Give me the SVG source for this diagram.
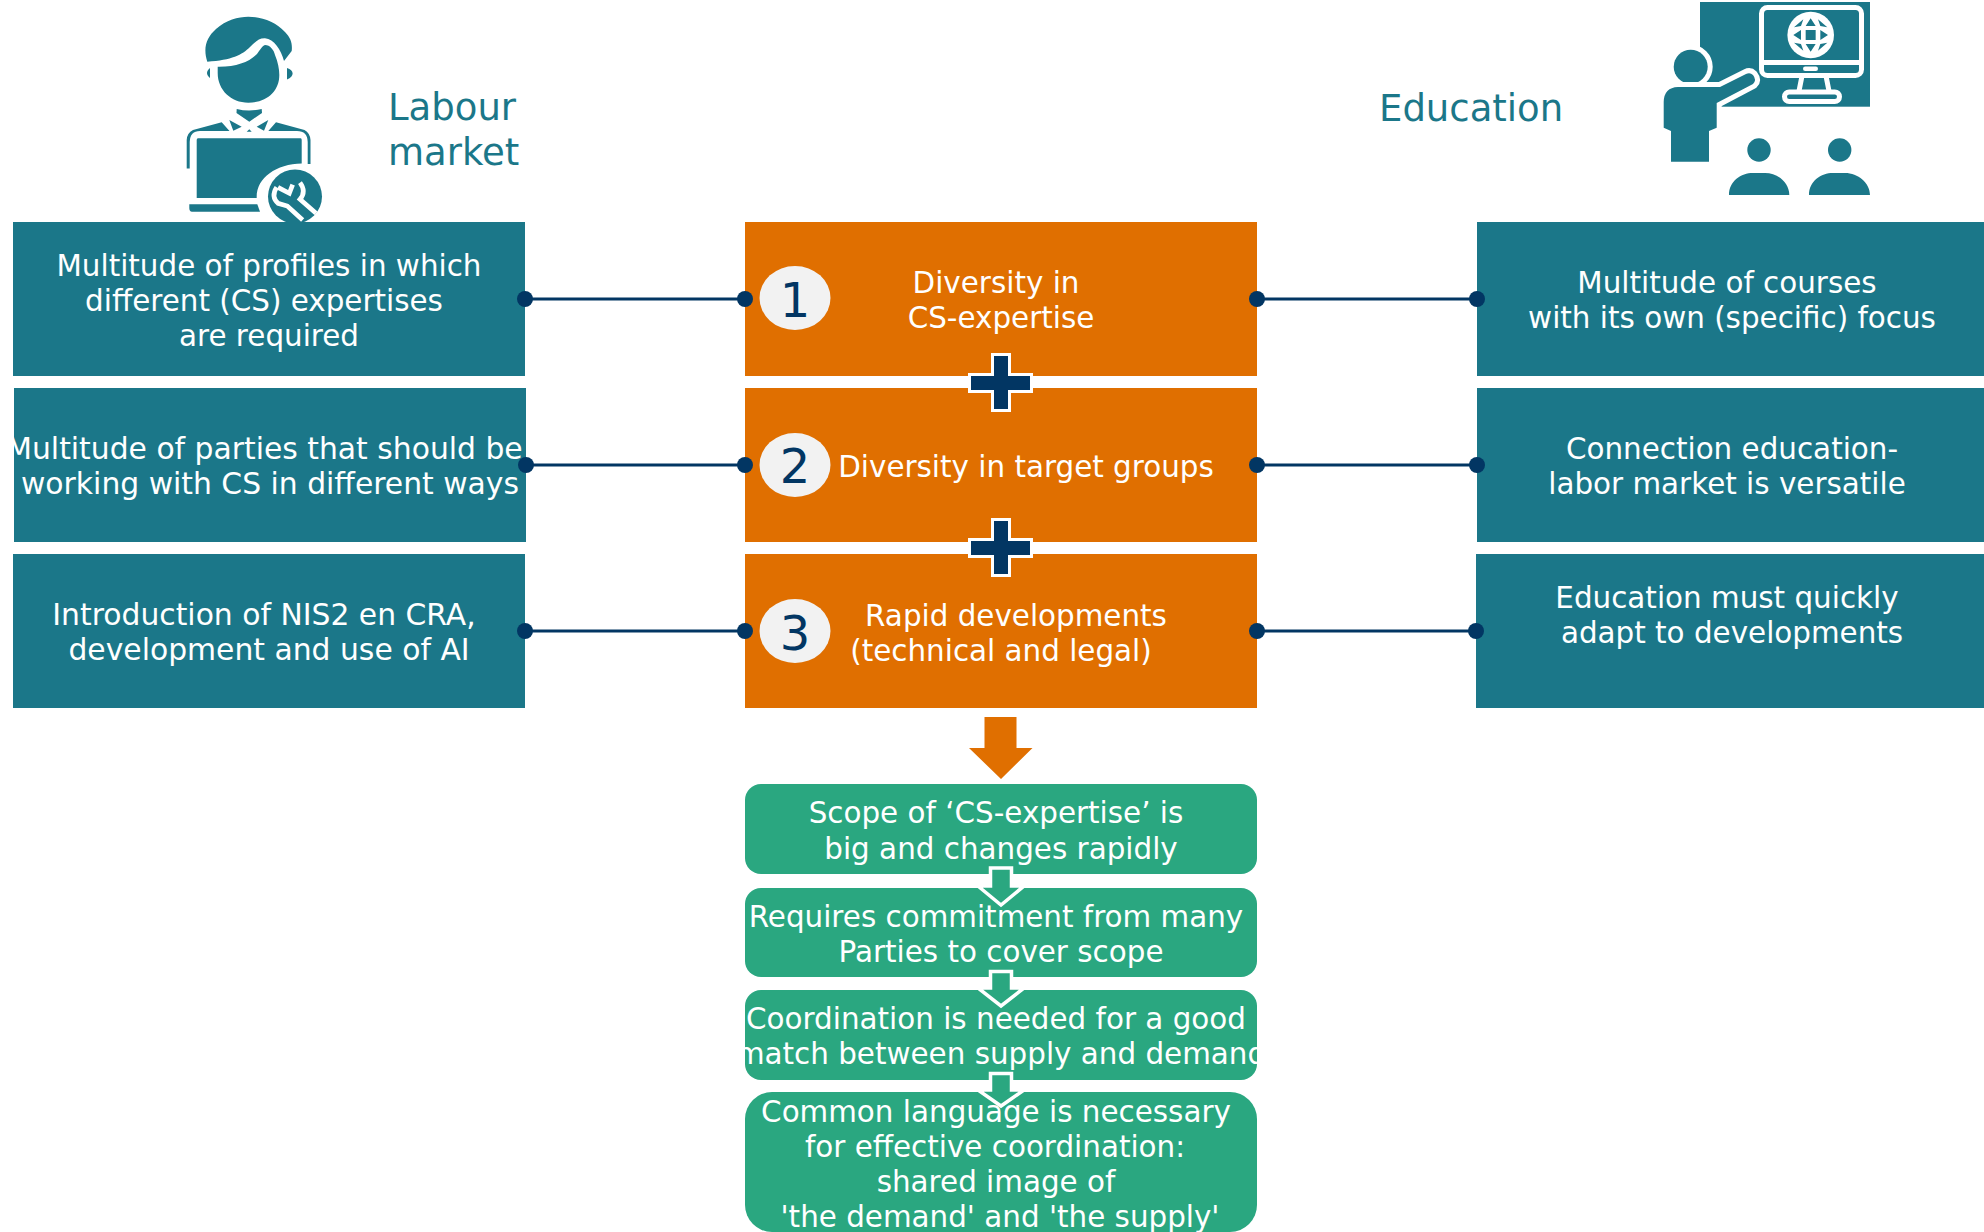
<svg xmlns="http://www.w3.org/2000/svg" width="1984" height="1232" viewBox="0 0 1984 1232">
<style>
text{font-family:"DejaVu Sans",Verdana,sans-serif;font-size:29.4px;fill:#fff;text-anchor:middle}
.teal{fill:#1b7789}.orange{fill:#e06f00}.green{fill:#2aa780}
.hd{fill:#1b7789;font-size:37px;text-anchor:start}
.num{fill:#023663;font-size:48px}
.badge{fill:#f2f2f2}
.ln{stroke:#023663;stroke-width:3;fill:none}
.dot{fill:#023663}
.plus{fill:#023663;stroke:#fff;stroke-width:3}
.arr{fill:#2aa780;stroke:#fff;stroke-width:3.500}
.halo{stroke:#fff;stroke-width:10;paint-order:stroke}
</style>
<defs>
<clipPath id="clip-l2"><rect x="14" y="388" width="512" height="154"/></clipPath>
<clipPath id="clip-g3"><rect x="745" y="990" width="512" height="90" rx="16"/></clipPath>
<clipPath id="clip-icon"><rect x="150" y="0" width="200" height="222"/></clipPath>
</defs>
<g id="icon-labour" clip-path="url(#clip-icon)">
<g class="teal">
<path d="M207.300 61.700C203 48 206 38 216 29C226 20 238 16.700 248.300 16.700C262 16.700 276 22 285 32C291 38 292.500 44 291.700 51L284 61C281 50 274 39 265 38.300C259 38 255 42 250 47C242 55 232 60 207.300 61.700Z"/>
<path d="M217.700 66.700C236 67 249 62 257 54C260 50 262 46 265 45C270 45 274 50 275 55C278 62 279.300 69 279.300 75C279.300 92 266 102.700 248.300 102.700C231 102.700 217.700 90 217.700 73Z"/>
<path d="M210 68C206 71 206 75 210 78ZM287 68C294 70 295 76 287 79.500Z"/>
<path d="M236.700 109C245 111 253 111 261.700 109L262 113L249.300 121.700L236.500 113Z"/>
<path d="M221.700 122.300L229.500 131H200Q190 131 189.700 142V168.500H186.700V140Q187 133 193 130Z"/>
<path d="M276 122.300L268.300 131H297Q307.500 131 307.700 142V164H310.500V140Q310 133 304.500 130Z"/>
<path d="M229.300 120L241.700 126.700L233.300 130.700ZM268.300 120L256.700 126.700L264 130.700ZM246.700 131.700H251.700L249.300 129.300Z"/>
<path d="M198 138.300H300.700Q301.700 138.300 301.700 140V163.500C276 164 256 178 256.700 198H196.700V140Q196.700 138.300 198 138.300Z"/>
<path d="M189.300 204.300H257.300L260 211.700H192Q189.300 211.700 189.300 208Z"/>
<circle cx="295" cy="196.500" r="27"/>
</g>
<g transform="translate(250 150) scale(.3333)" fill="none" stroke="#fff" stroke-width="14">
<path d="M80 112Q62 140 84 160L112 168L158 210"/>
<path d="M84 112L118 130L128 104"/>
<path d="M150 98Q170 125 150 148L198 190"/>
</g>
</g>
<g id="icon-education">
<rect class="teal" x="1700" y="2" width="170" height="104.700"/>
<g fill="none" stroke="#fff" stroke-width="5">
<rect x="1761.500" y="7.500" width="100" height="68" rx="6"/><path d="M1761.500 62.500H1861.500"/>
<path d="M1802 76L1799 91M1826 76L1829 91"/>
<rect x="1784.500" y="92" width="55" height="9.500" rx="4.700"/>
</g>
<rect x="1803" y="66.500" width="15" height="4.500" rx="2.200" fill="#fff"/>
<circle cx="1810.700" cy="35" r="23.300" fill="#fff"/>
<g class="teal" transform="translate(1770 0) scale(.3333)">
<rect x="107" y="90" width="30" height="30"/>
<path d="M122 55L107 78H137ZM122 155L107 132H137ZM70 105L93 90V120ZM174 105L151 90V120ZM72 82L100 58L93 78ZM172 82L144 58L151 78ZM72 128L100 152L93 132ZM172 128L144 152L151 132Z"/>
</g>
<g class="teal">
<circle class="halo" cx="1690.700" cy="66.700" r="17"/>
<path class="halo" d="M1663.700 127.700V102Q1664 87.500 1678 87H1720L1746 74Q1750 72 1753 75Q1757 80 1753 84L1716.700 103V127.700L1709 131V161.700H1671V131Z"/>
<circle cx="1759" cy="150" r="11.700"/><circle cx="1839.700" cy="150" r="11.700"/>
<path d="M1729 195C1729 181 1741 173 1753 173H1765C1778 173 1789.300 183 1789.300 195ZM1809 195C1809 181 1821 173 1833 173H1845C1858 173 1870 183 1870 195Z"/>
</g>
</g>
<text class="hd" x="388" y="120">Labour</text><text class="hd" x="388" y="164.500">market</text>
<text class="hd" x="1379" y="120.500">Education</text>
<g id="n-l1"><rect class="teal" x="13" y="222" width="512" height="154"/><text x="269" y="275.500">Multitude of profiles in which</text><text x="264" y="310.500">different (CS) expertises</text><text x="269" y="345.500">are required</text></g>
<g id="n-l2"><rect class="teal" x="14" y="388" width="512" height="154"/><g clip-path="url(#clip-l2)"><text x="264.500" y="459" font-size="29.800" style="font-size:29.800px">Multitude of parties that should be</text></g><text x="270" y="494" style="font-size:29.800px">working with CS in different ways</text></g>
<g id="n-l3"><rect class="teal" x="13" y="554" width="512" height="154"/><text x="264" y="625" style="font-size:29.800px">Introduction of NIS2 en CRA,</text><text x="269" y="660" style="font-size:29.800px">development and use of AI</text></g>
<g id="n-c1"><rect class="orange" x="745" y="222" width="512" height="154"/><ellipse class="badge" cx="795" cy="298" rx="35.500" ry="32"/><text class="num" x="795" y="316.700">1</text><text x="996" y="293">Diversity in</text><text x="1001" y="328">CS-expertise</text></g>
<g id="n-c2"><rect class="orange" x="745" y="388" width="512" height="154"/><ellipse class="badge" cx="795" cy="465" rx="35.500" ry="32"/><text class="num" x="795" y="483.300">2</text><text x="1026" y="477">Diversity in target groups</text></g>
<g id="n-c3"><rect class="orange" x="745" y="554" width="512" height="154"/><ellipse class="badge" cx="795" cy="631" rx="35.500" ry="32"/><text class="num" x="795" y="649.500">3</text><text x="1016" y="625.500">Rapid developments</text><text x="1001" y="660.500">(technical and legal)</text></g>
<g id="n-r1"><rect class="teal" x="1477" y="222" width="507" height="154"/><text x="1727" y="293">Multitude of courses</text><text x="1732" y="328">with its own (specific) focus</text></g>
<g id="n-r2"><rect class="teal" x="1477" y="388" width="507" height="154"/><text x="1732" y="459">Connection education-</text><text x="1727" y="494">labor market is versatile</text></g>
<g id="n-r3"><rect class="teal" x="1476" y="554" width="508" height="154"/><text x="1727" y="608">Education must quickly</text><text x="1732" y="643">adapt to developments</text></g>
<path id="plus-1" class="plus" d="M992.500 354.500V374.500H969.500V391.500H992.500V410.500H1009.500V391.500H1031.500V374.500H1009.500V354.500Z"/>
<path id="plus-2" class="plus" d="M992.500 519.500V539.500H969.500V556.500H992.500V575.500H1009.500V556.500H1031.500V539.500H1009.500V519.500Z"/>
<path id="arrow-main" class="orange" d="M984.500 717H1016.500V748H1032.500L1001 779L969 748H984.500Z"/>
<g id="n-g1"><rect class="green" x="745" y="784" width="512" height="90" rx="16"/><text x="996" y="823">Scope of ‘CS-expertise’ is</text><text x="1001" y="859">big and changes rapidly</text></g>
<g id="n-g2"><rect class="green" x="745" y="888" width="512" height="89" rx="16"/><text x="996" y="927">Requires commitment from many</text><text x="1001" y="962">Parties to cover scope</text></g>
<g id="n-g3"><rect class="green" x="745" y="990" width="512" height="90" rx="16"/><g clip-path="url(#clip-g3)"><text x="996" y="1029">Coordination is needed for a good</text><text x="1001" y="1064">match between supply and demand</text></g></g>
<g id="n-g4"><rect class="green" x="745" y="1092" width="512" height="140" rx="27"/><text x="996" y="1122">Common language is necessary</text><text x="995" y="1157">for effective coordination:</text><text x="996" y="1192">shared image of</text><text x="1000" y="1227">'the demand' and 'the supply'</text></g>
<g id="connectors">
<path class="ln" d="M525 299H745M1257 299H1477M526 465H745M1257 465H1477M525 631H745M1257 631H1476"/>
<g class="dot"><circle cx="525" cy="299" r="8"/><circle cx="745" cy="299" r="8"/><circle cx="1257" cy="299" r="8"/><circle cx="1477" cy="299" r="8"/><circle cx="526" cy="465" r="8"/><circle cx="745" cy="465" r="8"/><circle cx="1257" cy="465" r="8"/><circle cx="1477" cy="465" r="8"/><circle cx="525" cy="631" r="8"/><circle cx="745" cy="631" r="8"/><circle cx="1257" cy="631" r="8"/><circle cx="1476" cy="631" r="8"/></g>
<path class="arr" id="a1" d="M990.500 868H1011.500V886H1024L1001 905L978 886H990.500Z"/>
<path class="arr" id="a2" d="M990.500 971.500H1011.500V988H1024L1001 1006L978 988H990.500Z"/>
<path class="arr" id="a3" d="M990.500 1073.500H1011.500V1090H1024L1001 1106L978 1090H990.500Z"/>
</g>
</svg>
